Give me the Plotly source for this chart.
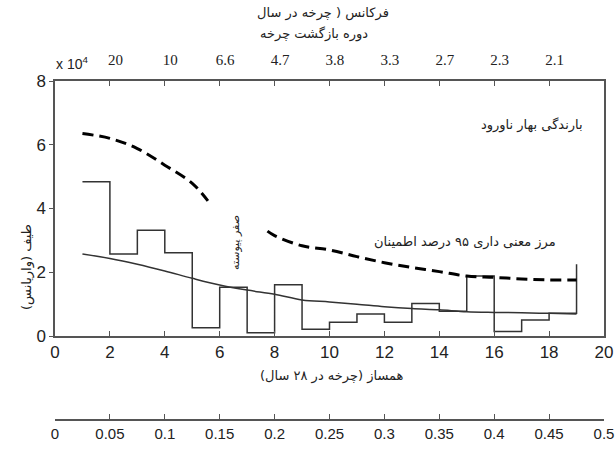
import plotly.graph_objects as go

# ---------------- data ----------------
harmonics = list(range(1, 20))  # 1..19
# step spectrum values for intervals [k, k+1), plus final edge value at 19
spectrum = [4.84, 2.57, 3.32, 2.61, 0.26, 1.53, 0.10, 1.61, 0.21, 0.43,
            0.69, 0.43, 1.02, 0.78, 1.88, 0.14, 0.50, 0.71, 2.25]
# red-noise (smooth) curve
rednoise_x = list(range(1, 20))
rednoise = [2.57, 2.43, 2.25, 2.04, 1.81, 1.60, 1.44, 1.31, 1.13, 1.07,
            1.00, 0.92, 0.86, 0.82, 0.76, 0.74, 0.73, 0.71, 0.69]
# 95% confidence bound (dashed), with a gap
conf_x = [1, 2, 3, 4, 5, 5.57, None, 7.74, 8, 9, 10, 11, 12, 13, 14, 15, 16, 17, 18, 19]
conf_y = [6.35, 6.20, 5.88, 5.36, 4.79, 4.24, None, 3.29, 3.15, 2.83, 2.70, 2.49,
          2.30, 2.15, 2.02, 1.88, 1.84, 1.79, 1.76, 1.76]

x_ticks = list(range(0, 21, 2))
y_ticks = [0, 2, 4, 6, 8]
period_pos = [2, 4, 6, 8, 10, 12, 14, 16, 18]
period_labels = ["20", "10", "6.6", "4.7", "3.8", "3.3", "2.7", "2.3", "2.1"]
freq_ticks = [0, 0.05, 0.1, 0.15, 0.2, 0.25, 0.3, 0.35, 0.4, 0.45, 0.5]
freq_labels = ["0", "0.05", "0.1", "0.15", "0.2", "0.25", "0.3", "0.35", "0.4", "0.45", "0.5"]

# ---------------- layout helpers ----------------
L, R, T, B = 55, 604, 81, 420
W, H = R - L, B - T


def px(x):
    return (x - L) / W


def py(y):
    return (B - y) / H


NARROW = "Liberation Sans Narrow, Arial Narrow, Liberation Sans, sans-serif"
SERIF = "Liberation Serif, Times New Roman, serif"
ARAB = "DejaVu Sans, sans-serif"
AX = "#555555"
LINE = "#333333"

fig = go.Figure()

fig.add_trace(go.Scatter(x=harmonics, y=spectrum, mode="lines", line_shape="hv",
                         line=dict(color=LINE, width=1.5), showlegend=False))
fig.add_trace(go.Scatter(x=rednoise_x, y=rednoise, mode="lines", line_shape="spline",
                         line=dict(color=LINE, width=1.5), showlegend=False))
fig.add_trace(go.Scatter(x=conf_x, y=conf_y, mode="lines", line_shape="spline",
                         connectgaps=False,
                         line=dict(color="black", width=3, dash="11px,6px"), showlegend=False))
# invisible helpers so overlay axes are drawn
fig.add_trace(go.Scatter(x=[0, 20], y=[-1, -1], xaxis="x2", yaxis="y", mode="markers",
                         marker=dict(opacity=0), showlegend=False, hoverinfo="skip"))
fig.add_trace(go.Scatter(x=[0, 0.5], y=[-1, -1], xaxis="x3", yaxis="y", mode="markers",
                         marker=dict(opacity=0), showlegend=False, hoverinfo="skip"))

fig.update_layout(
    width=616, height=462,
    margin=dict(l=L, r=616 - R, t=T, b=462 - B, autoexpand=False),
    paper_bgcolor="white", plot_bgcolor="white",
    xaxis=dict(range=[0, 20], tickvals=x_ticks, ticks="inside", ticklen=5,
               tickcolor=AX, showline=True, linecolor=AX, linewidth=1.5,
               mirror="allticks", showgrid=False, zeroline=False, automargin=False,
               ticklabeloverflow="allow",
               tickfont=dict(family=NARROW, size=17, color="#222"), anchor="y"),
    xaxis2=dict(range=[0, 20], overlaying="x", side="top", anchor="y",
                tickvals=[p + 0.2 for p in period_pos], ticktext=period_labels,
                ticks="", showline=False, showgrid=False, zeroline=False,
                ticklabelstandoff=12, automargin=False, ticklabeloverflow="allow",
                tickfont=dict(family=SERIF, size=15, color="#222")),
    xaxis3=dict(range=[0, 0.5], overlaying="x", anchor="free", position=0, side="bottom",
                tickvals=freq_ticks, ticktext=freq_labels, ticks="inside", ticklen=5,
                tickcolor=AX, showline=True, linecolor=AX, linewidth=1.5,
                showgrid=False, zeroline=False, automargin=False,
                ticklabeloverflow="allow",
                tickfont=dict(family=NARROW, size=15, color="#222")),
    yaxis=dict(range=[0, 8], domain=[py(336), 1], tickvals=y_ticks, ticks="outside",
               ticklen=4, tickcolor=AX, showline=True, linecolor=AX, linewidth=1.5,
               mirror=True, showgrid=False, zeroline=False, automargin=False,
               ticklabeloverflow="allow",
               tickfont=dict(family=NARROW, size=17, color="#222")),
)

ann = [
    dict(text="فرکانس ( چرخه در سال", x=px(323), y=py(13), font=dict(family=ARAB, size=13)),
    dict(text="دوره بازگشت چرخه", x=px(314), y=py(34), font=dict(family=ARAB, size=13)),
    dict(text="x 10<sup>4</sup>", x=px(72), y=py(63), font=dict(family=NARROW, size=14)),
    dict(text="بارندگی بهار ناورود", x=px(532), y=py(125), font=dict(family=ARAB, size=13)),
    dict(text="مرز معنی داری ۹۵ درصد اطمینان", x=px(465), y=py(242), font=dict(family=ARAB, size=13)),
    dict(text="صفر پیوسته", x=px(235), y=py(243), textangle=-90,
         font=dict(family=ARAB, size=11)),
    dict(text="طیف (واریانس)", x=px(27), y=py(267), textangle=-90,
         font=dict(family=ARAB, size=13)),
    dict(text="همساز (چرخه در ۲۸ سال)", x=px(332), y=py(376), font=dict(family=ARAB, size=13)),
]
for a in ann:
    a.update(xref="paper", yref="paper", showarrow=False, xanchor="center", yanchor="middle")
    a["font"].setdefault("color", "#222")
fig.update_layout(annotations=ann)

fig.write_html("out.html")
